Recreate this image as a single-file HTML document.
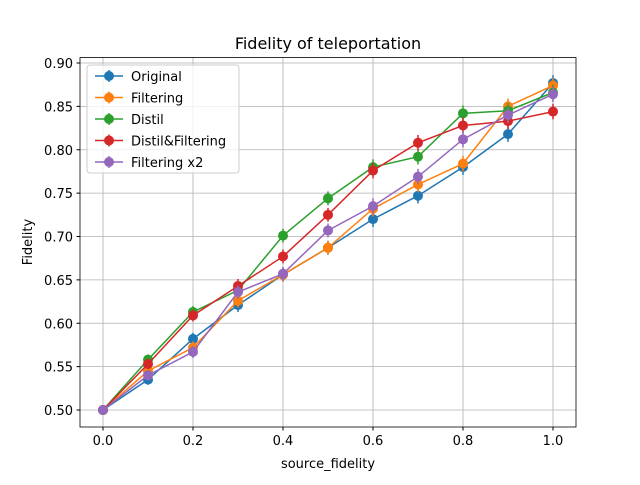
<!DOCTYPE html>
<html><head><meta charset="utf-8"><style>body{margin:0;background:#fff}svg{font-family:"DejaVu Sans","Liberation Sans",sans-serif}</style></head>
<body>
<svg id="c" width="640" height="480"></svg>
<script>
const xs=[0,0.1,0.2,0.3,0.4,0.5,0.6,0.7,0.8,0.9,1.0];
const original=[0.5,0.535,0.582,0.621,0.656,0.687,0.720,0.747,0.780,0.818,0.877];
const filtering=[0.5,0.545,0.572,0.626,0.656,0.687,0.732,0.760,0.784,0.850,0.874];
const distil=[0.5,0.558,0.613,0.638,0.701,0.744,0.780,0.792,0.842,0.845,0.866];
const distilFiltering=[0.5,0.553,0.609,0.643,0.677,0.725,0.776,0.808,0.828,0.833,0.844];
const filtering2=[0.5,0.540,0.567,0.636,0.657,0.707,0.735,0.769,0.812,0.840,0.864];
const errs=[0,0.006,0.007,0.008,0.008,0.008,0.009,0.009,0.009,0.009,0.009];
const xTicks=[0,0.2,0.4,0.6,0.8,1.0];
const yTicks=[0.5,0.55,0.6,0.65,0.7,0.75,0.8,0.85,0.9];
const names=["Original","Filtering","Distil","Distil&Filtering","Filtering x2"];
const colors=["#1f77b4","#ff7f0e","#2ca02c","#d62728","#9467bd"];
const series=[original,filtering,distil,distilFiltering,filtering2];
const L=80,R=576,T=57.6,B=427;
const X=v=>103+(v)*450, Y=v=>410-(v-0.5)*867.5;
const s=document.getElementById('c');const NS='http://www.w3.org/2000/svg';
function mk(t,a,p){const e=document.createElementNS(NS,t);for(const k in a)e.setAttribute(k,a[k]);(p||s).appendChild(e);return e;}
xTicks.forEach(v=>{const g=mk('line',{x1:X(v),x2:X(v),y1:T,y2:B,stroke:'#b0b0b0','stroke-width':0.8});

const tk=mk('line',{x1:X(v),x2:X(v),y1:B,y2:B+3.5,stroke:'#000'});
const t=mk('text',{x:X(v),y:B+18,'font-size':13,'text-anchor':'middle'});t.textContent=v.toFixed(1);
});
yTicks.forEach(v=>{const g=mk('line',{x1:L,x2:R,y1:Y(v),y2:Y(v),stroke:'#b0b0b0','stroke-width':0.8});

const tk=mk('line',{x1:L-3.5,x2:L,y1:Y(v),y2:Y(v),stroke:'#000'});
const t=mk('text',{x:L-7,y:Y(v)+5,'font-size':13,'text-anchor':'end'});t.textContent=v.toFixed(2);
});
series.forEach((d,i)=>{const g=mk('g',{});
xs.forEach((x,j)=>{const e=mk('line',{x1:X(x),x2:X(x),y1:Y(d[j]-errs[j]),y2:Y(d[j]+errs[j]),stroke:colors[i],'stroke-width':1.5},g);
});
const p=mk('polyline',{points:xs.map((x,j)=>X(x)+','+Y(d[j])).join(' '),fill:'none',stroke:colors[i],'stroke-width':1.5},g);

xs.forEach((x,j)=>{const c=mk('circle',{cx:X(x),cy:Y(d[j]),r:5,fill:colors[i]},g);
});});
const fr=mk('rect',{x:L,y:T,width:R-L,height:B-T,fill:'none',stroke:'#000','stroke-width':0.8});
const ti=mk('text',{x:328,y:49,'font-size':16,'text-anchor':'middle'});ti.textContent='Fidelity of teleportation';
const xl=mk('text',{x:328,y:468,'font-size':13,'text-anchor':'middle'});xl.textContent='source_fidelity';
const yl=mk('text',{x:32,y:242,'font-size':13,'text-anchor':'middle',transform:'rotate(-90 32 242)'});yl.textContent='Fidelity';
const lg=mk('g',{});
mk('rect',{x:87,y:65,width:152,height:108,rx:3,fill:'#fff','fill-opacity':0.8,stroke:'#ccc'},lg);
names.forEach((n,i)=>{const y=76+i*21.5;const e=mk('g',{},lg);
mk('line',{x1:95,x2:123,y1:y,y2:y,stroke:colors[i],'stroke-width':1.5},e);
mk('line',{x1:109,x2:109,y1:y-6,y2:y+6,stroke:colors[i],'stroke-width':1.5},e);
mk('circle',{cx:109,cy:y,r:5,fill:colors[i]},e);
const t=mk('text',{x:131,y:y+5,'font-size':13},e);t.textContent=n;});
</script>
</body></html>
